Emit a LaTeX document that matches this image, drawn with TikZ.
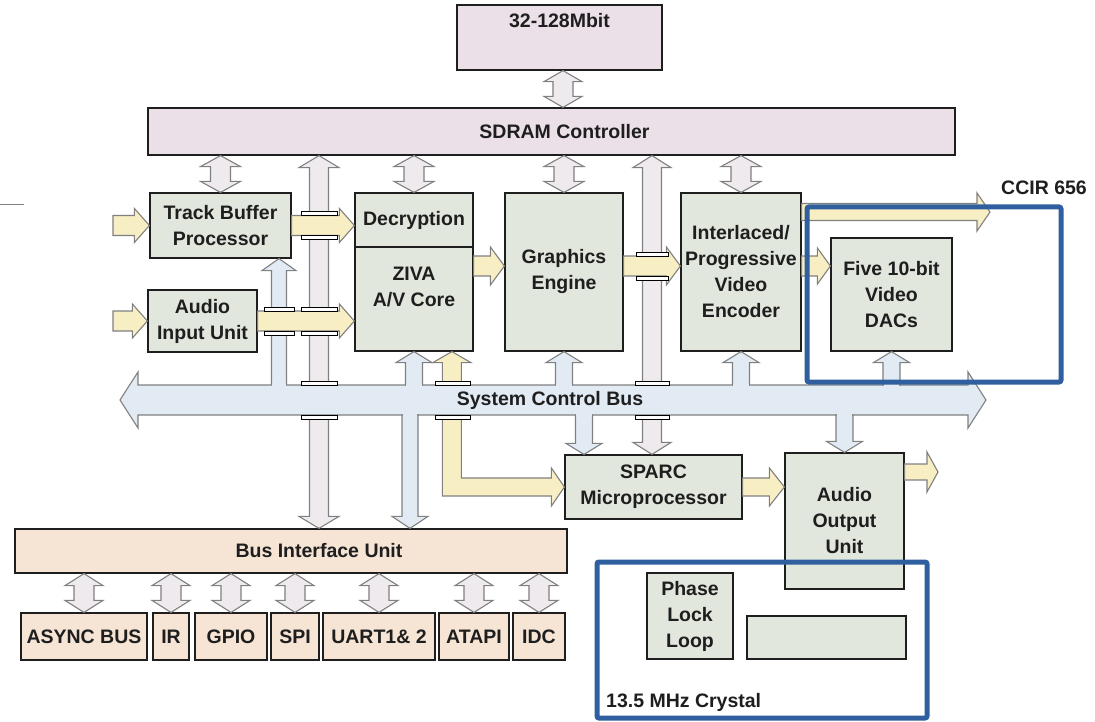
\documentclass[tikz,border=0pt]{standalone}
\usepackage{fontspec}
\usetikzlibrary{calc}
\newfontfamily\lbl{Liberation Sans Bold}
\definecolor{memc}{RGB}{235,223,232}
\definecolor{grnc}{RGB}{226,231,221}
\definecolor{pchc}{RGB}{246,228,213}
\definecolor{ylwc}{RGB}{248,238,196}
\definecolor{gryc}{RGB}{238,234,238}
\definecolor{busc}{RGB}{226,235,244}
\definecolor{edgc}{RGB}{128,128,128}
\definecolor{bluc}{RGB}{47,95,159}
\definecolor{inkc}{RGB}{30,30,30}
\tikzset{
  txt/.style={inner sep=0pt, align=center, text=inkc, font=\lbl\fontsize{19.5}{26}\selectfont},
  box/.style={txt, draw=inkc, line width=1.2pt},
  yarr/.style={fill=ylwc, draw=edgc, line width=1.1pt, line join=miter},
  garr/.style={fill=gryc, draw=edgc, line width=1.1pt, line join=miter},
  barr/.style={fill=busc, draw=edgc, line width=1.1pt, line join=miter},
  brk/.style={fill=white, draw=black, line width=0.9pt},
  bluebox/.style={draw=bluc, line width=5pt, rounded corners=2pt}
}
% box node from pixel extents
\newcommand\bx[7]{\node[box, fill=#6, minimum width={(#3)-(#2)}, minimum height={(#5)-(#4)}] (#1) at ({((#2)+(#3))/2},{-((#4)+(#5))/2}) {#7};}
% single block arrow: style, from, to, shaft half, head half, head length
\newcommand\sarrow[6]{%
  \coordinate (ba1) at #2; \coordinate (ba2) at #3;
  \coordinate (bac) at ($(ba2)!#6pt!(ba1)$);
  \path[#1] ($(ba1)!#4pt!90:(ba2)$) -- ($(bac)!#4pt!-90:(ba1)$) -- ($(bac)!#5pt!-90:(ba1)$) -- (ba2)
    -- ($(bac)!#5pt!90:(ba1)$) -- ($(bac)!#4pt!90:(ba1)$) -- ($(ba1)!#4pt!-90:(ba2)$) -- cycle;}
% double block arrow
\newcommand\darrow[6]{%
  \coordinate (ba1) at #2; \coordinate (ba2) at #3;
  \coordinate (bac) at ($(ba2)!#6pt!(ba1)$); \coordinate (bad) at ($(ba1)!#6pt!(ba2)$);
  \path[#1] (ba1) -- ($(bad)!#5pt!90:(ba2)$) -- ($(bad)!#4pt!90:(ba2)$) -- ($(bac)!#4pt!-90:(ba1)$)
    -- ($(bac)!#5pt!-90:(ba1)$) -- (ba2) -- ($(bac)!#5pt!90:(ba1)$) -- ($(bac)!#4pt!90:(ba1)$)
    -- ($(bad)!#4pt!-90:(ba2)$) -- ($(bad)!#5pt!-90:(ba2)$) -- cycle;}
% arrow leaving the bus, with open junction
\newcommand\busarr[5]{%
  \sarrow{barr}{#1}{#2}{#3}{#4}{#5}
  \fill[busc] ($#1+(-#3+0.7,-2)$) rectangle ($#1+(#3-0.7,2)$);}
\newcommand\brk[4]{\draw[brk] (#1,-#3) rectangle (#2,-#4);}
\begin{document}
\begin{tikzpicture}[x=1pt,y=1pt]
\useasboundingbox (0,0) rectangle (1095,-722);
\fill[white] (0,0) rectangle (1095,-722);
% ---------- boxes
\node[box, fill=memc, minimum width=205, minimum height=65,
  label={[txt, anchor=north, yshift=-9pt]north:32-128Mbit}] (mem) at (559.5,-37.5) {};
\bx{sdram}{148}{955}{108}{155}{memc}{\hspace*{26pt}SDRAM Controller}
\bx{tbp}{150}{291}{193}{258}{grnc}{Track Buffer\\Processor}
\bx{aiu}{148}{257}{290}{352}{grnc}{Audio\\Input Unit}
\bx{dec}{355}{473}{193}{247}{grnc}{Decryption}
\bx{core}{355}{473}{247}{351}{grnc}{}
\node[txt] (coretxt) at (414,-287) {ZIVA\\A/V Core};
\bx{ge}{505}{623}{193}{351}{grnc}{Graphics\\Engine}
\bx{ive}{681}{801}{193}{351}{grnc}{Interlaced/\\Progressive\\Video\\Encoder}
\bx{dacs}{831}{952}{238}{351}{grnc}{Five 10-bit\\Video\\DACs}
\bx{sparc}{565}{742}{455}{519}{grnc}{SPARC\\Microprocessor}
\bx{aou}{785}{904}{453}{589}{grnc}{Audio\\Output\\Unit}
\bx{pll}{647}{733}{573}{659}{grnc}{Phase\\Lock\\Loop}
\bx{xtal}{747}{906}{616}{659}{grnc}{}
\bx{biu}{15}{567}{529}{573}{pchc}{\hspace*{56pt}Bus Interface Unit}
\bx{async}{21}{147}{613}{660}{pchc}{ASYNC BUS}
\bx{ir}{153}{189}{613}{660}{pchc}{IR}
\bx{gpio}{195}{267}{613}{660}{pchc}{GPIO}
\bx{spi}{271}{319}{613}{660}{pchc}{SPI}
\bx{uart}{323}{435}{613}{660}{pchc}{UART1\& 2}
\bx{atapi}{439}{509}{613}{660}{pchc}{ATAPI}
\bx{idc}{513}{565}{613}{660}{pchc}{IDC}
% ---------- helper coordinates
\coordinate (busL) at (120,-400); \coordinate (busR) at (986,-400);
\coordinate (busT) at (0,-385); \coordinate (busB) at (0,-415);
\coordinate (barA) at (319,0); \coordinate (barB) at (652,0);
\coordinate (memx) at (563,0);
\coordinate (vrow) at (0,-266);
\coordinate (ccirrow) at (0,-212); \coordinate (ccirend) at (990,-212);
\coordinate (aoutend) at (938,-472);
\coordinate (tbpbus) at (279,0);
\coordinate (sparcbus) at (584,0);
\coordinate (biubus) at (410,0);
\coordinate (tbpsrc) at (113,-225.5);
\coordinate (aiusrc) at (113,-321);
% ---------- long memory bars
\darrow{garr}{(barA |- sdram.south)}{(barA |- biu.north)}{9.5}{20}{12}
\darrow{garr}{(barB |- sdram.south)}{(barB |- sparc.north)}{9.5}{19}{12}
% ---------- L-shaped yellow path core <-> SPARC
\draw[yarr] let \p1=($(core.south west)+(97.5,0)$), \p2=(sparc.west) in
  (\p1) -- ({\x1+19},{\y1-11}) -- ({\x1+9.5},{\y1-11}) -- ({\x1+9.5},{\y2+9}) -- ({\x2-13},{\y2+9})
  -- ({\x2-13},{\y2+19}) -- (\p2) -- ({\x2-13},{\y2-19}) -- ({\x2-13},{\y2-9}) -- ({\x1-9.5},{\y2-9})
  -- ({\x1-9.5},{\y1-11}) -- ({\x1-19},{\y1-11}) -- cycle;
% ---------- bus to track buffer (passes under audio arrow)
\sarrow{barr}{(tbpbus |- busT)}{(tbpbus |- tbp.south)}{7.5}{17}{12}
% ---------- yellow data arrows
\sarrow{yarr}{(tbpsrc)}{(tbp.west)}{10}{17}{15}
\sarrow{yarr}{(aiusrc)}{(aiu.west)}{10}{17}{15}
\sarrow{yarr}{(tbp.east)}{(dec.west |- tbp.east)}{10}{17}{15}
\sarrow{yarr}{(aiu.east)}{(core.west |- aiu.east)}{10}{17}{15}
\sarrow{yarr}{(core.east |- vrow)}{(ge.west |- vrow)}{10}{19}{14}
\sarrow{yarr}{(ge.east |- vrow)}{(ive.west |- vrow)}{10}{19}{14}
\sarrow{yarr}{(ive.east |- vrow)}{(dacs.west |- vrow)}{10}{18}{13}
\sarrow{yarr}{(ive.east |- ccirrow)}{(ccirend)}{8.5}{19}{13}
\sarrow{yarr}{(sparc.east)}{(aou.west |- sparc.east)}{9}{19}{15}
\sarrow{yarr}{(aou.east |- aoutend)}{(aoutend)}{8}{20}{11}
% ---------- memory double arrows
\darrow{garr}{(memx |- mem.south)}{(memx |- sdram.north)}{10}{19}{11}
\darrow{garr}{(tbp.north |- sdram.south)}{(tbp.north)}{10}{20}{11}
\darrow{garr}{(dec.north |- sdram.south)}{(dec.north)}{10}{20}{11}
\darrow{garr}{(ge.north |- sdram.south)}{(ge.north)}{10}{20}{11}
\darrow{garr}{(ive.north |- sdram.south)}{(ive.north)}{10}{20}{11}
\foreach \q in {async,ir,gpio,spi,uart,atapi,idc}{
  \darrow{garr}{(\q.north |- biu.south)}{(\q.north)}{10}{19}{12}
}
% ---------- system control bus
\darrow{barr}{(busL)}{(busR)}{15}{28}{18}
\fill[busc] ($(tbpbus |- busT)+(-6.8,-2)$) rectangle ($(tbpbus |- busT)+(6.8,2)$);
\busarr{(core.south |- busT)}{(core.south)}{8.5}{18}{11}
\busarr{(ge.south |- busT)}{(ge.south)}{8.5}{18}{11}
\busarr{(ive.south |- busT)}{(ive.south)}{8.5}{18}{11}
\busarr{(dacs.south |- busT)}{(dacs.south)}{8.5}{18}{11}
\busarr{(sparcbus |- busB)}{(sparcbus |- sparc.north)}{8.5}{18}{11}
\busarr{(aou.north |- busB)}{(aou.north)}{8.5}{18}{11}
\busarr{(biubus |- busB)}{(biubus |- biu.north)}{8}{18}{12}
\node[txt] (buslbl) at (550,-400) {System Control Bus};
% ---------- crossing brackets
\brk{301}{337}{381}{385} \brk{301}{337}{415}{419}
\brk{635}{669}{381}{385} \brk{635}{669}{415}{419}
\brk{435}{470}{381}{385} \brk{435}{470}{415}{419}
\brk{301}{337}{211.5}{215.5} \brk{301}{337}{235.5}{239.5}
\brk{301}{337}{307}{311} \brk{301}{337}{331}{335}
\brk{264}{294}{307}{311} \brk{264}{294}{331}{335}
\brk{636}{668}{252}{256} \brk{636}{668}{276}{280}
% ---------- free texts
\node[txt] (ccir) at (1044,-188) {CCIR 656};
\node[txt, anchor=west] (xtaltxt) at (606,-702) {13.5 MHz Crystal};
% ---------- highlight frames
\draw[bluebox] (807,-207) rectangle (1061,-382);
\draw[bluebox] (597,-562) rectangle (927,-718);
\draw[edgc, line width=1pt] (0,-205) -- (24,-205);
\end{tikzpicture}
\end{document}
